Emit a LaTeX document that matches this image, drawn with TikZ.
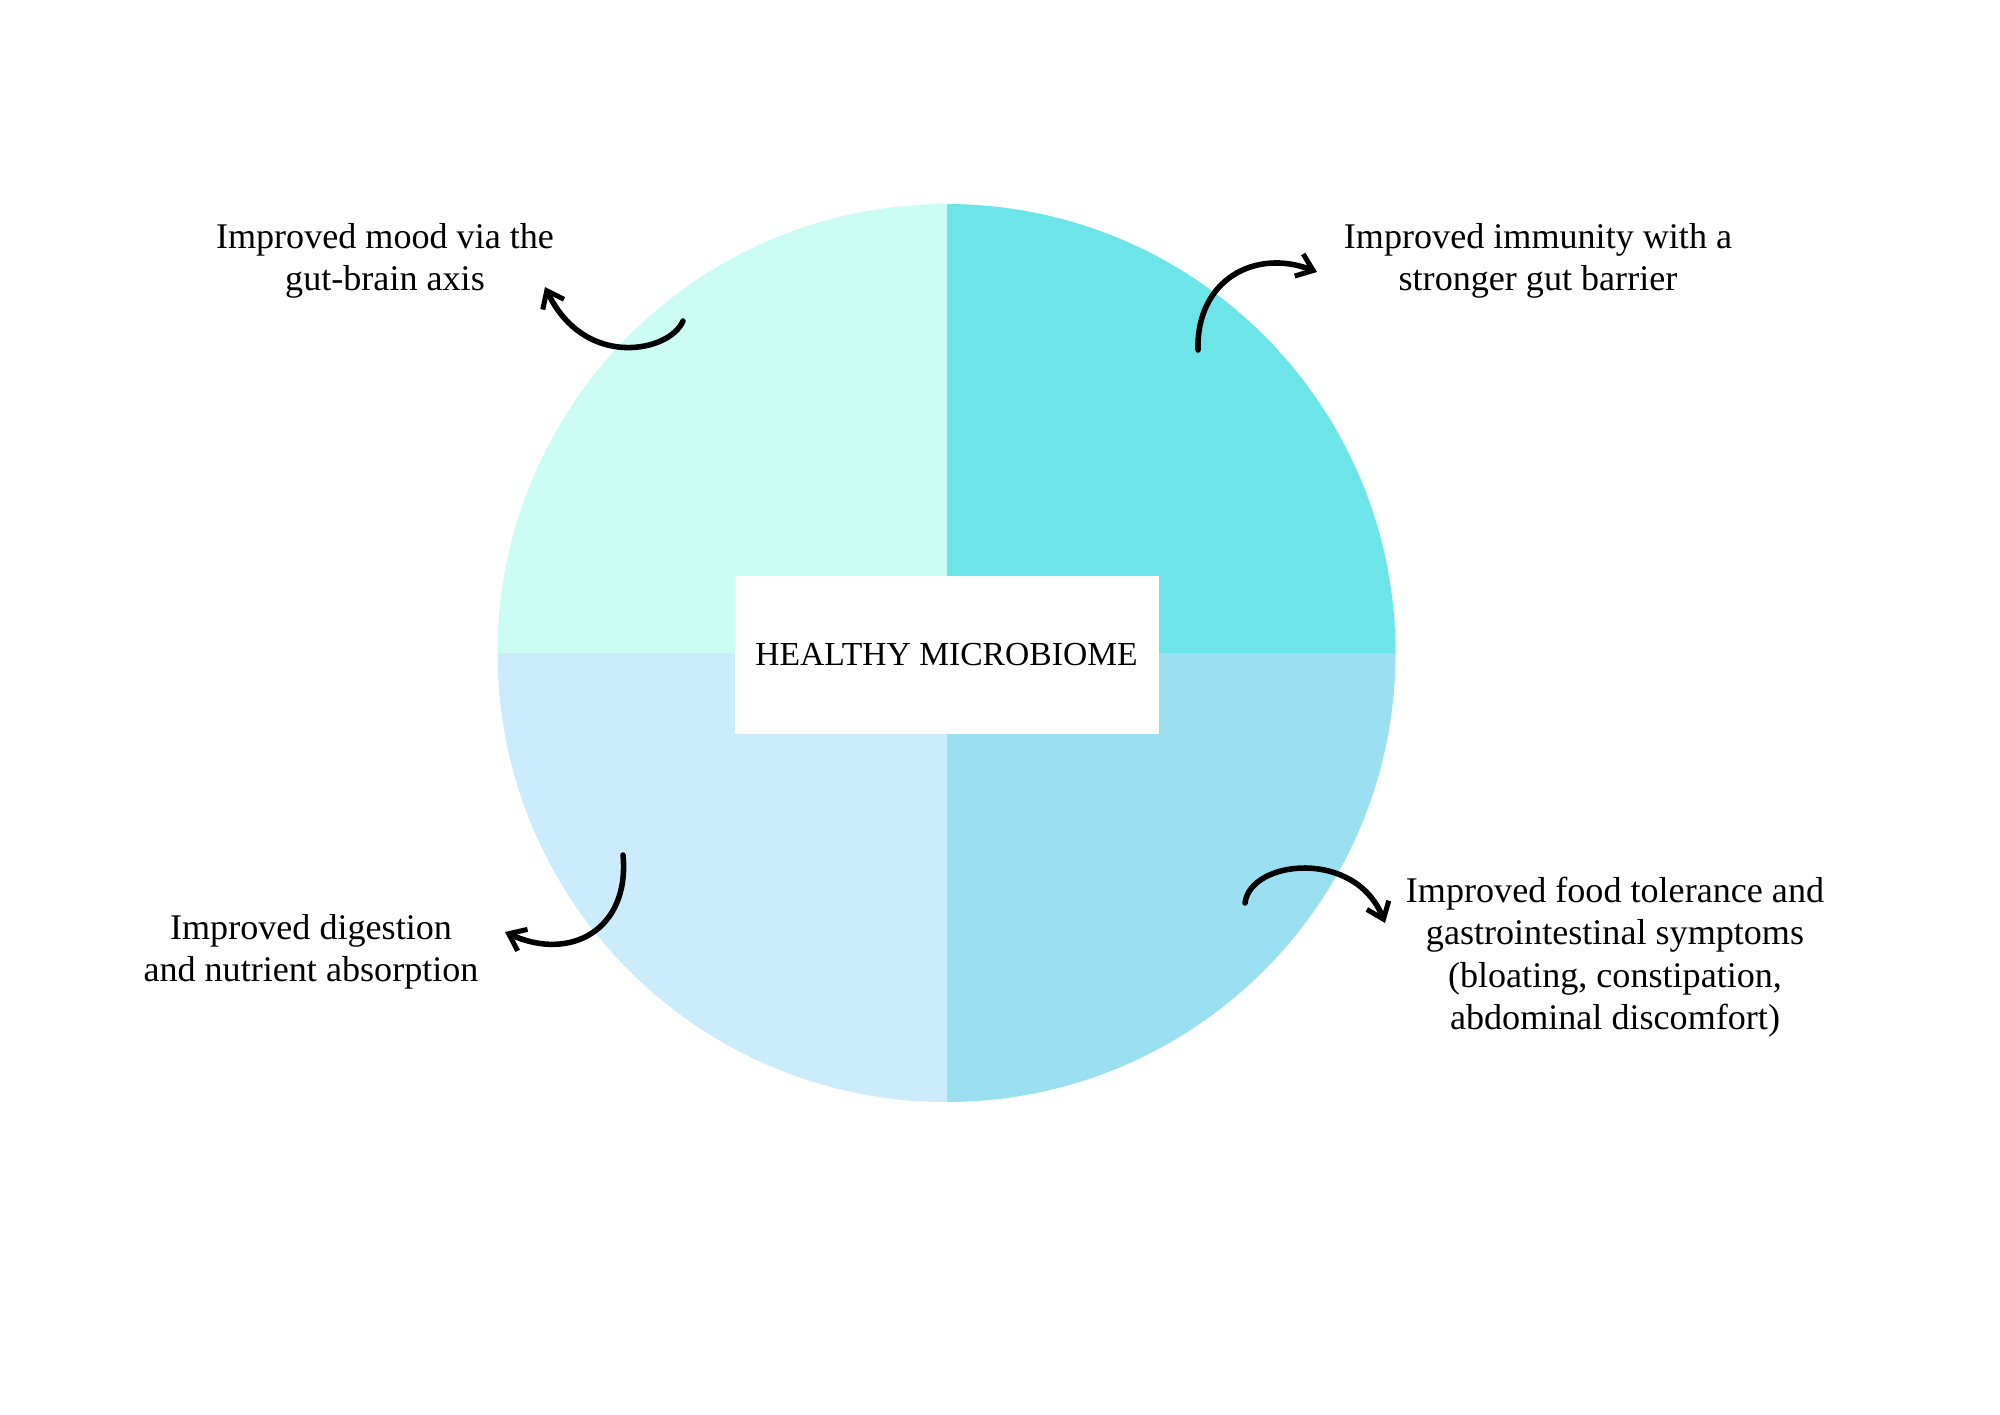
\documentclass[tikz,border=0pt]{standalone}
\usepackage{fontspec}
\setmainfont{Liberation Serif}
\usetikzlibrary{arrows.meta}
\definecolor{qtl}{HTML}{CCFDF5}
\definecolor{qtr}{HTML}{6CE4E8}
\definecolor{qbl}{HTML}{CAECFC}
\definecolor{qbr}{HTML}{9BE0F1}
\tikzset{
  lbl/.style={align=center, font=\fontsize{13}{15.3}\selectfont, inner sep=0pt},
  handarrow/.style={line width=2pt, line cap=round, -{Straight Barb[length=5.5pt,width=8.5pt,line width=1.8pt]}},
}
\begin{document}
\begin{tikzpicture}[x=0.36pt,y=-0.36pt]
\useasboundingbox (0,0) rectangle (2000,1414);
\fill[white] (0,0) rectangle (2000,1414);
% quadrants
\begin{scope}
  \clip (946.5,653) circle [radius=449];
  \fill[qtl] (497,204) rectangle (946.5,653);
  \fill[qtr] (946.5,204) rectangle (1396,653);
  \fill[qbl] (497,653) rectangle (946.5,1102);
  \fill[qbr] (946.5,653) rectangle (1396,1102);
\end{scope}
% centre box
\node[fill=white, minimum width=424*0.36pt, minimum height=158*0.36pt, inner sep=0pt,
      font=\fontsize{12.1}{14}\selectfont] (center) at (946.5,655) {HEALTHY MICROBIOME};
% labels
\node[lbl] (mood) at (385,261) {Improved mood via the\\gut-brain axis};
\node[lbl] (immune) at (1538,261) {Improved immunity with a\\stronger gut barrier};
\node[lbl] (digest) at (311,952) {Improved digestion\\and nutrient absorption};
\node[lbl] (food) at (1615,957) {Improved food tolerance and\\gastrointestinal symptoms\\(bloating, constipation,\\abdominal discomfort)};
% arrow coordinates
\coordinate (t1) at (683,321); \coordinate (h1) at (545,287);
\coordinate (t2) at (1198,350); \coordinate (h2) at (1317,272);
\coordinate (t3) at (623,855); \coordinate (h3) at (505,932);
\coordinate (t4) at (1245,903); \coordinate (h4) at (1385,923);
\draw[handarrow] (t1) .. controls (670,352) and (585,370) .. (h1);
\draw[handarrow] (t2) .. controls (1196,280) and (1255,248) .. (h2);
\draw[handarrow] (t3) .. controls (630,930) and (570,962) .. (h3);
\draw[handarrow] (t4) .. controls (1250,860) and (1355,848) .. (h4);
\end{tikzpicture}
\end{document}
